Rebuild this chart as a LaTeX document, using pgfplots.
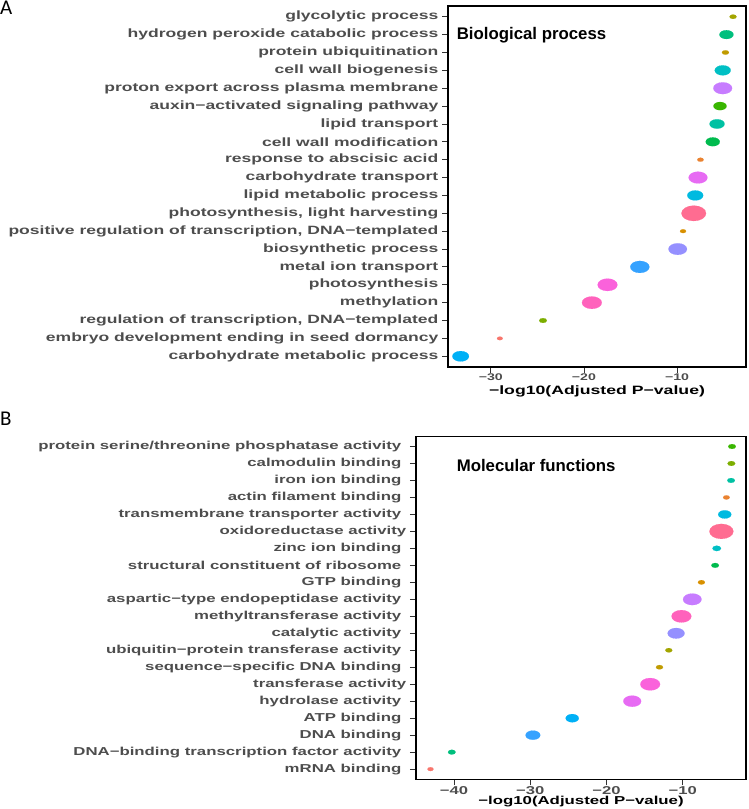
\documentclass[border=0pt]{standalone}
\usepackage{fontspec}
\usepackage{pgfplots}
\pgfplotsset{compat=1.18}
\newfontfamily\lab[FakeStretch=1.46]{Liberation Sans}
\newfontfamily\ttl{Liberation Sans}
\newfontfamily\pan{Carlito}
\definecolor{c01}{HTML}{F8766D}
\definecolor{c02}{HTML}{EA8331}
\definecolor{c03}{HTML}{D89000}
\definecolor{c04}{HTML}{C09B00}
\definecolor{c05}{HTML}{A3A500}
\definecolor{c06}{HTML}{7CAE00}
\definecolor{c07}{HTML}{39B600}
\definecolor{c08}{HTML}{00BB4E}
\definecolor{c09}{HTML}{00BF7D}
\definecolor{c10}{HTML}{00C1A3}
\definecolor{c11}{HTML}{00BFC4}
\definecolor{c12}{HTML}{00BAE0}
\definecolor{c13}{HTML}{00B0F6}
\definecolor{c14}{HTML}{35A2FF}
\definecolor{c15}{HTML}{9590FF}
\definecolor{c16}{HTML}{C77CFF}
\definecolor{c17}{HTML}{E76BF3}
\definecolor{c18}{HTML}{FA62DB}
\definecolor{c19}{HTML}{FF62BC}
\definecolor{c20}{HTML}{FF6C91}
\definecolor{g30}{HTML}{4D4D4D}
\definecolor{g20}{HTML}{333333}
\newcommand{\pt}[4]{\addplot[only marks, mark=*, color=#1, mark size=#2bp, mark options={xscale=1.6, line width=0.1pt}] coordinates {(#3,#4)};}
\newcommand{\s}{\kern5bp}
\pgfplotsset{
  go/.style={
    scale only axis,
    axis line style={black, line width=1.2bp},
    tick style={g20, line width=0.9bp},
    tick align=outside,
    major tick length=6bp,
    xtick pos=lower, ytick pos=left,
    ymin=0.4, ymax=20.6,
    ytick={1,...,20},
    yticklabel style={text=g30, anchor=east, inner sep=1.5bp, xshift=-2bp},
    xticklabel style={text=g30, anchor=north, inner sep=1bp},
    xlabel style={anchor=center},
    clip=false,
  }
}
\begin{document}
\begin{tikzpicture}
\path[use as bounding box] (0,0) rectangle (749bp,-809bp);
\node[anchor=north west, inner sep=0pt, font=\pan\fontsize{21bp}{24bp}\selectfont] at (0bp,-0.5bp) {A};
\node[anchor=north west, inner sep=0pt, font=\pan\fontsize{21bp}{24bp}\selectfont] at (0bp,-411.5bp) {B};
% ---------- A ----------
\begin{axis}[go,
  at={(448bp,-367bp)}, anchor=south west,
  width=298bp, height=361bp,
  xmin=-34.6, xmax=-2.6,
  xtick={-30,-20,-10},
  xticklabels={−30,−20,−10},
  xticklabel style={font=\lab\fontsize{9.7bp}{11bp}\selectfont\bfseries},
  yticklabel style={font=\lab\fontsize{12bp}{14bp}\selectfont\bfseries},
  xlabel={−log10(Adjusted P−value)},
  xlabel style={font=\lab\fontsize{12.1bp}{14bp}\selectfont\bfseries, at={(axis description cs:0.5,-0.0665)}},
  yticklabels={carbohydrate metabolic process, embryo development ending in seed dormancy, {regulation of transcription, DNA−templated}, methylation, photosynthesis, metal ion transport, biosynthetic process, {positive regulation of transcription, DNA−templated}, {photosynthesis, light harvesting}, lipid metabolic process, carbohydrate transport, response to abscisic acid, cell wall modification, lipid transport, auxin−activated signaling pathway, proton export across plasma membrane, cell wall biogenesis, protein ubiquitination, hydrogen peroxide catabolic process, glycolytic process},
]
\pt{c05}{2.2}{-3.99}{20}
\pt{c09}{4.4}{-4.70}{19}
\pt{c04}{2.2}{-4.81}{18}
\pt{c11}{5.0}{-5.10}{17}
\pt{c16}{5.9}{-5.10}{16}
\pt{c07}{4.1}{-5.39}{15}
\pt{c10}{4.7}{-5.71}{14}
\pt{c08}{4.4}{-6.17}{13}
\pt{c02}{2.0}{-7.49}{12}
\pt{c17}{5.9}{-7.75}{11}
\pt{c12}{5.0}{-8.05}{10}
\pt{c20}{7.7}{-8.21}{9}
\pt{c03}{1.9}{-9.36}{8}
\pt{c15}{5.8}{-9.93}{7}
\pt{c14}{6.0}{-14.0}{6}
\pt{c18}{6.2}{-17.47}{5}
\pt{c19}{6.2}{-19.15}{4}
\pt{c06}{2.4}{-24.4}{3}
\pt{c01}{1.8}{-29.03}{2}
\pt{c13}{5.2}{-33.24}{1}
\node[anchor=base west, inner sep=0pt, font=\ttl\fontsize{16.8bp}{19bp}\selectfont\bfseries] at (axis description cs:0.029,0.908) {Biological process};
\end{axis}
% ---------- B ----------
\begin{axis}[go,
  at={(416bp,-779.3bp)}, anchor=south west,
  width=330bp, height=343bp,
  xmin=-45, xmax=-1.7,
  xtick={-40,-30,-20,-10},
  xticklabels={−40,−30,−20,−10},
  xticklabel style={font=\lab\fontsize{11.4bp}{13bp}\selectfont\bfseries},
  yticklabel style={font=\lab\fontsize{11.5bp}{14bp}\selectfont\bfseries},
  xlabel={−log10(Adjusted P−value)},
  xlabel style={font=\lab\fontsize{11.5bp}{14bp}\selectfont\bfseries, at={(axis description cs:0.5,-0.066)}},
  yticklabels={mRNA binding\s, DNA−binding transcription factor activity\s, DNA binding\s, ATP binding\s, hydrolase activity\s, transferase activity, sequence−specific DNA binding\s, ubiquitin−protein transferase activity\s, catalytic activity\s, methyltransferase activity\s, aspartic−type endopeptidase activity\s, GTP binding\s, structural constituent of ribosome\s, zinc ion binding\s, oxidoreductase activity, transmembrane transporter activity\s, actin filament binding\s, iron ion binding\s, calmodulin binding\s, protein serine/threonine phosphatase activity\s},
]
\pt{c07}{2.4}{-3.53}{20}
\pt{c06}{2.4}{-3.62}{19}
\pt{c10}{2.4}{-3.66}{18}
\pt{c02}{2.1}{-4.27}{17}
\pt{c12}{4.1}{-4.49}{16}
\pt{c20}{7.5}{-4.93}{15}
\pt{c11}{2.7}{-5.54}{14}
\pt{c08}{2.4}{-5.75}{13}
\pt{c03}{2.2}{-7.55}{12}
\pt{c16}{5.8}{-8.75}{11}
\pt{c19}{6.2}{-10.17}{10}
\pt{c15}{5.3}{-10.87}{9}
\pt{c05}{2.2}{-11.83}{8}
\pt{c04}{2.2}{-13.05}{7}
\pt{c18}{6.2}{-14.27}{6}
\pt{c17}{5.6}{-16.63}{5}
\pt{c13}{4.1}{-24.5}{4}
\pt{c14}{4.6}{-29.66}{3}
\pt{c09}{2.4}{-40.3}{2}
\pt{c01}{1.9}{-43.1}{1}
\node[anchor=base west, inner sep=0pt, font=\ttl\fontsize{16.8bp}{19bp}\selectfont\bfseries] at (axis description cs:0.123,0.896) {Molecular functions};
\end{axis}
\end{tikzpicture}
\end{document}
